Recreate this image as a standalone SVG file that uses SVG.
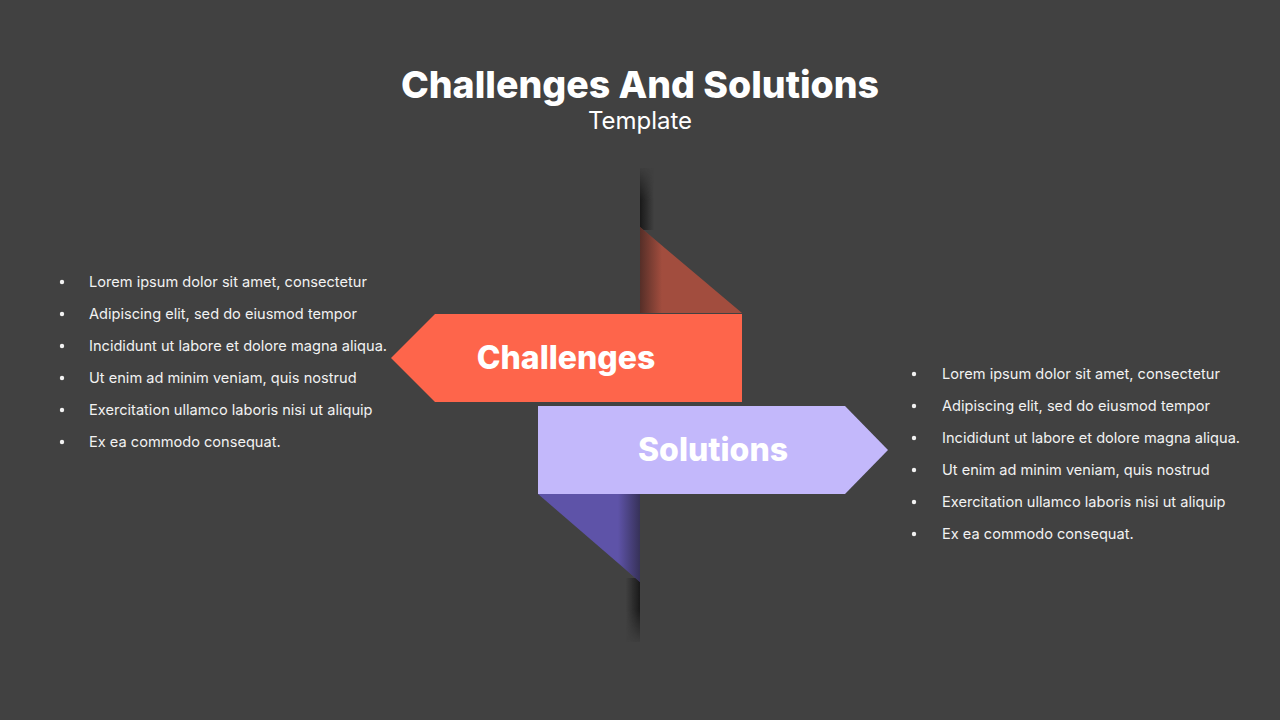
<svg xmlns="http://www.w3.org/2000/svg" width="1280" height="720" viewBox="0 0 1280 720">
  <defs>
    <style>
      .title { font-family: Inter, "Liberation Sans", sans-serif; font-weight: 800; fill: #ffffff; }
      .sub { font-family: Inter, "Liberation Sans", sans-serif; font-weight: 400; fill: #ffffff; }
      .lbl { font-family: Inter, "Liberation Sans", sans-serif; font-weight: 800; fill: #ffffff; font-size: 32px; }
      .item { font-family: Inter, "Liberation Sans", sans-serif; font-size: 14.6px; fill: #f2f2f2; }
      .dot { fill: #f2f2f2; }
    </style>
    <linearGradient id="shL" x1="0" y1="0" x2="1" y2="0">
      <stop offset="0" stop-color="#151515" stop-opacity="0.9"/>
      <stop offset="1" stop-color="#151515" stop-opacity="0"/>
    </linearGradient>
    <linearGradient id="shR" x1="1" y1="0" x2="0" y2="0">
      <stop offset="0" stop-color="#151515" stop-opacity="0.9"/>
      <stop offset="1" stop-color="#151515" stop-opacity="0"/>
    </linearGradient>
    <linearGradient id="fadeTop" x1="0" y1="0" x2="0" y2="1">
      <stop offset="0" stop-color="#fff" stop-opacity="0"/>
      <stop offset="0.5" stop-color="#fff" stop-opacity="1"/>
      <stop offset="1" stop-color="#fff" stop-opacity="1"/>
    </linearGradient>
    <linearGradient id="fadeBot" x1="0" y1="0" x2="0" y2="1">
      <stop offset="0" stop-color="#fff" stop-opacity="1"/>
      <stop offset="0.5" stop-color="#fff" stop-opacity="1"/>
      <stop offset="1" stop-color="#fff" stop-opacity="0"/>
    </linearGradient>
    <mask id="mTop" maskUnits="userSpaceOnUse" x="630" y="165" width="40" height="70">
      <rect x="630" y="165" width="40" height="70" fill="url(#fadeTop)"/>
    </mask>
    <mask id="mBot" maskUnits="userSpaceOnUse" x="610" y="575" width="40" height="70">
      <rect x="610" y="575" width="40" height="70" fill="url(#fadeBot)"/>
    </mask>
    <clipPath id="cRed"><polygon points="640,227 742,313 640,313"/></clipPath>
    <clipPath id="cPur"><polygon points="538,494 640,494 640,582"/></clipPath>
  </defs>

  <rect x="0" y="0" width="1280" height="720" fill="#414141"/>

  <g id="title">
    <text class="title" x="640" y="98" font-size="37.5" text-anchor="middle">Challenges And Solutions</text>
    <text class="sub" x="640" y="129" font-size="24" text-anchor="middle">Template</text>
  </g>

  <g id="spine">
    <rect x="640" y="168" width="14" height="62" fill="url(#shL)" mask="url(#mTop)"/>
    <rect x="626" y="578" width="14" height="64" fill="url(#shR)" mask="url(#mBot)"/>
  </g>

  <g id="challenges">
    <polygon points="640,227 742,313 640,313" fill="#A24D3E"/>
    <rect x="640" y="227" width="22" height="86" fill="url(#shL)" clip-path="url(#cRed)" opacity="0.6"/>
    <polygon points="435,314 742,314 742,402 435,402 391,358" fill="#FE654B"/>
    <text class="lbl" x="566" y="369" text-anchor="middle">Challenges</text>
  </g>

  <g id="solutions">
    <polygon points="538,494 640,494 640,582" fill="#5E53A8"/>
    <rect x="618" y="494" width="22" height="90" fill="url(#shR)" clip-path="url(#cPur)" opacity="0.6"/>
    <polygon points="538,406 845,406 888,450 845,494 538,494" fill="#C3B8FB"/>
    <text class="lbl" x="713" y="461" text-anchor="middle">Solutions</text>
  </g>

  <g id="challenges-list">
    <circle class="dot" cx="62" cy="282" r="2.2"/>
    <circle class="dot" cx="62" cy="314" r="2.2"/>
    <circle class="dot" cx="62" cy="346" r="2.2"/>
    <circle class="dot" cx="62" cy="378" r="2.2"/>
    <circle class="dot" cx="62" cy="410" r="2.2"/>
    <circle class="dot" cx="62" cy="442" r="2.2"/>
    <text class="item" x="89" y="287">Lorem ipsum dolor sit amet, consectetur</text>
    <text class="item" x="89" y="319">Adipiscing elit, sed do eiusmod tempor</text>
    <text class="item" x="89" y="351">Incididunt ut labore et dolore magna aliqua.</text>
    <text class="item" x="89" y="383">Ut enim ad minim veniam, quis nostrud</text>
    <text class="item" x="89" y="415">Exercitation ullamco laboris nisi ut aliquip</text>
    <text class="item" x="89" y="447">Ex ea commodo consequat.</text>
  </g>

  <g id="solutions-list">
    <circle class="dot" cx="914" cy="374" r="2.2"/>
    <circle class="dot" cx="914" cy="406" r="2.2"/>
    <circle class="dot" cx="914" cy="438" r="2.2"/>
    <circle class="dot" cx="914" cy="470" r="2.2"/>
    <circle class="dot" cx="914" cy="502" r="2.2"/>
    <circle class="dot" cx="914" cy="534" r="2.2"/>
    <text class="item" x="942" y="379">Lorem ipsum dolor sit amet, consectetur</text>
    <text class="item" x="942" y="411">Adipiscing elit, sed do eiusmod tempor</text>
    <text class="item" x="942" y="443">Incididunt ut labore et dolore magna aliqua.</text>
    <text class="item" x="942" y="475">Ut enim ad minim veniam, quis nostrud</text>
    <text class="item" x="942" y="507">Exercitation ullamco laboris nisi ut aliquip</text>
    <text class="item" x="942" y="539">Ex ea commodo consequat.</text>
  </g>
</svg>
